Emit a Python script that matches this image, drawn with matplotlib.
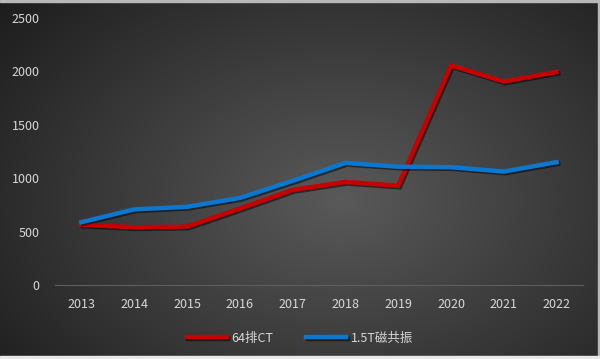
import numpy as np
import matplotlib
matplotlib.use('Agg')
import matplotlib.pyplot as plt
import matplotlib.patheffects as pe

years = ['2013', '2014', '2015', '2016', '2017', '2018', '2019', '2020', '2021', '2022']
ct_64 = [565, 540, 547, 715, 890, 965, 930, 2055, 1905, 1995]
mri_15t = [588, 708, 732, 815, 975, 1143, 1108, 1103, 1062, 1150]
series_names = ['64排CT', '1.5T磁共振']

plt.rcParams['font.family'] = ['Noto Sans CJK SC', 'DejaVu Sans']

fig = plt.figure(figsize=(6, 3.59), dpi=100)

# radial gradient background
bg = fig.add_axes([0, 0, 1, 1], zorder=0)
h, w = 359, 600
yy, xx = np.mgrid[0:h, 0:w]
cx, cy = 340, 200
r = np.sqrt(((xx - cx) / 430.0) ** 2 + ((yy - cy) / 300.0) ** 2)
shade = np.clip(0.35 - 0.23 * r, 0.11, 0.35)
img = np.dstack([shade, shade, shade])
bg.imshow(img, aspect='auto', extent=[0, w, h, 0])
bg.set_xlim(0, w)
bg.set_ylim(h, 0)
bg.axis('off')
# light frame at top, right, bottom
bg.add_patch(plt.Rectangle((0, 0), w, 2, color='#b8b8b8'))
bg.add_patch(plt.Rectangle((w - 2, 0), 2, h, color='#b8b8b8'))
bg.add_patch(plt.Rectangle((0, h - 3), w, 3, color='#e8e8e8'))

ax = fig.add_axes([55 / 600, 1 - 285 / 359, 528 / 600, 267 / 359], zorder=1)
ax.set_facecolor('none')

x = np.arange(len(years))
shadow = [pe.SimpleLineShadow(offset=(1.2, -1.2), shadow_color='black', alpha=0.5), pe.Normal()]
ax.plot(x, ct_64, color='#c80000', linewidth=3.2, label=series_names[0],
        solid_joinstyle='miter', path_effects=shadow)
ax.plot(x, mri_15t, color='#0a78d0', linewidth=3.2, label=series_names[1],
        solid_joinstyle='miter', path_effects=shadow)

ax.set_xlim(-0.5, 9.5)
ax.set_ylim(0, 2500)
ax.set_yticks([0, 500, 1000, 1500, 2000, 2500])
ax.set_xticks(x)
ax.set_xticklabels(years)
ax.tick_params(colors='#d8d8d8', labelsize=9, length=0)
ax.tick_params(axis='y', pad=11)
ax.tick_params(axis='x', pad=9)
for s in ['top', 'right', 'left']:
    ax.spines[s].set_visible(False)
ax.spines['bottom'].set_color('#5e5e5e')
ax.spines['bottom'].set_linewidth(0.8)

leg = fig.legend(loc='center', bbox_to_anchor=(0.5, 1 - 338 / 359), ncol=2,
                 frameon=False, fontsize=9, handlelength=3.2, columnspacing=2.6,
                 handletextpad=0.4)
for t in leg.get_texts():
    t.set_color('#d8d8d8')

fig.savefig('out.png', dpi=100)
